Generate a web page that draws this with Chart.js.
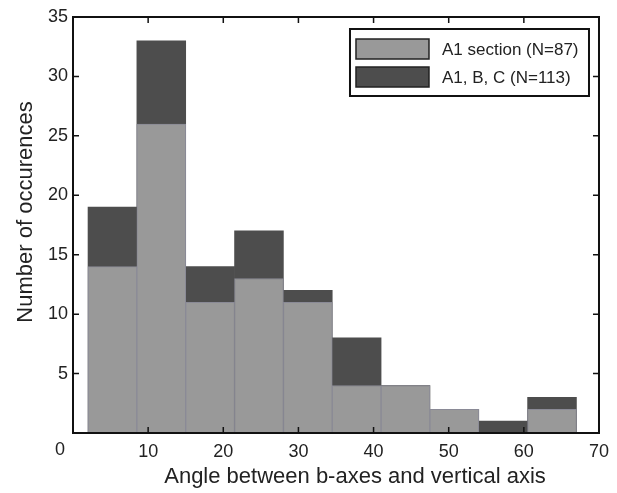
<!DOCTYPE html>
<html>
<head>
<meta charset="utf-8">
<script src="https://cdn.jsdelivr.net/npm/chart.js@4"></script>
<style>
  body { margin: 0; background: #fff; }
  #wrap { width: 617px; height: 493px; }
</style>
</head>
<body>
<div id="wrap"><canvas id="myChart" width="617" height="493"></canvas></div>
<script>
// histogram bins (centres, width 6.5 deg)
const binCenters = [5.25, 11.75, 18.25, 24.75, 31.25, 37.75, 44.25, 50.75, 57.25, 63.75];
const a1Counts = [14, 26, 11, 13, 11, 4, 4, 2, 0, 2];
const allCounts = [19, 33, 14, 17, 12, 8, 4, 2, 1, 3];
const xTicks = [0, 10, 20, 30, 40, 50, 60, 70];
const yTicks = [5, 10, 15, 20, 25, 30, 35];
const seriesNames = ['A1 section (N=87)', 'A1, B, C (N=113)'];
const xTitle = 'Angle between b-axes and vertical axis';
const yTitle = 'Number of occurences';

const FONT = 'Liberation Sans, Arial, Helvetica, sans-serif';
const TEXT = '#222';

// Function to draw box frame, inward ticks, titles and legend
const framePlugin = {
    id: 'frame',
    afterDraw(chart) {
        const ctx = chart.ctx;
        const a = chart.chartArea;
        const xs = chart.scales.x, ys = chart.scales.y;
        ctx.save();
        ctx.strokeStyle = '#111';
        ctx.lineWidth = 2;
        ctx.strokeRect(a.left, a.top, a.right - a.left, a.bottom - a.top);
        ctx.lineWidth = 1.5;
        ctx.beginPath();
        xTicks.forEach(function(v) {
            const px = xs.getPixelForValue(v);
            ctx.moveTo(px, a.bottom); ctx.lineTo(px, a.bottom - 6);
            ctx.moveTo(px, a.top); ctx.lineTo(px, a.top + 6);
        });
        yTicks.forEach(function(v) {
            const py = ys.getPixelForValue(v);
            ctx.moveTo(a.left, py); ctx.lineTo(a.left + 6, py);
            ctx.moveTo(a.right, py); ctx.lineTo(a.right - 6, py);
        });
        ctx.stroke();

        // the lone "0" sits left of the corner, as in the original
        ctx.fillStyle = TEXT;
        ctx.font = '18px ' + FONT;
        ctx.textAlign = 'center';
        ctx.textBaseline = 'alphabetic';
        ctx.fillText('0', xs.getPixelForValue(0) - 13, a.bottom + 22);

        // axis titles
        ctx.font = '22px ' + FONT;
        ctx.fillText(xTitle, (a.left + a.right) / 2 + 19, a.bottom + 50);
        ctx.save();
        ctx.translate(32, (a.top + a.bottom) / 2 - 13);
        ctx.rotate(-Math.PI / 2);
        ctx.fillText(yTitle, 0, 0);
        ctx.restore();

        // legend box
        const w = 239, h = 67;
        const lx = a.right - 10 - w, ly = a.top + 12;
        ctx.fillStyle = '#fff';
        ctx.fillRect(lx, ly, w, h);
        ctx.lineWidth = 2;
        ctx.strokeStyle = '#111';
        ctx.strokeRect(lx, ly, w, h);
        ctx.font = '17px ' + FONT;
        ctx.textAlign = 'left';
        ctx.textBaseline = 'middle';
        chart.data.datasets.forEach(function(ds, i) {
            const sy = ly + 10 + i * 28;
            ctx.fillStyle = ds.backgroundColor;
            ctx.fillRect(lx + 6, sy, 73, 20);
            ctx.lineWidth = 1.5;
            ctx.strokeStyle = '#222';
            ctx.strokeRect(lx + 6, sy, 73, 20);
            ctx.fillStyle = TEXT;
            ctx.fillText(seriesNames[i], lx + 92, sy + 11);
        });
        ctx.restore();
    }
};

var ctx = document.getElementById('myChart').getContext('2d');
var myChart = new Chart(ctx, {
    type: 'bar',
    data: {
        datasets: [{
            label: seriesNames[0],
            data: binCenters.map(function(x, i) { return { x: x, y: a1Counts[i] }; }),
            backgroundColor: '#999999',
            borderColor: '#8a8a96',
            borderWidth: 1,
            barPercentage: 1,
            categoryPercentage: 1,
            grouped: false
        }, {
            label: seriesNames[1],
            data: binCenters.map(function(x, i) { return { x: x, y: allCounts[i] }; }),
            backgroundColor: '#4d4d4d',
            borderWidth: 0,
            barPercentage: 1,
            categoryPercentage: 1,
            grouped: false
        }]
    },
    options: {
        responsive: false,
        animation: false,
        layout: { padding: { top: 17, right: 18, left: 0, bottom: 0 } },
        plugins: {
            legend: { display: false },
            tooltip: { enabled: false }
        },
        scales: {
            x: {
                type: 'linear',
                offset: false,
                min: 0,
                max: 70,
                afterBuildTicks: function(scale) {
                    scale.ticks = xTicks.map(function(v) { return { value: v }; });
                },
                afterFit: function(scale) { scale.height = 60; },
                grid: { display: false, drawTicks: false },
                border: { display: false },
                ticks: {
                    padding: 8,
                    color: TEXT,
                    font: { family: FONT, size: 18 },
                    maxRotation: 0,
                    callback: function(v) { return v === 0 ? '' : v; }
                }
            },
            y: {
                min: 0,
                max: 35,
                afterBuildTicks: function(scale) {
                    scale.ticks = yTicks.map(function(v) { return { value: v }; });
                },
                afterFit: function(scale) { scale.width = 73; },
                grid: { display: false, drawTicks: false },
                border: { display: false },
                ticks: {
                    padding: 5,
                    color: TEXT,
                    font: { family: FONT, size: 18 }
                }
            }
        }
    },
    plugins: [framePlugin]
});
</script>
</body>
</html>
